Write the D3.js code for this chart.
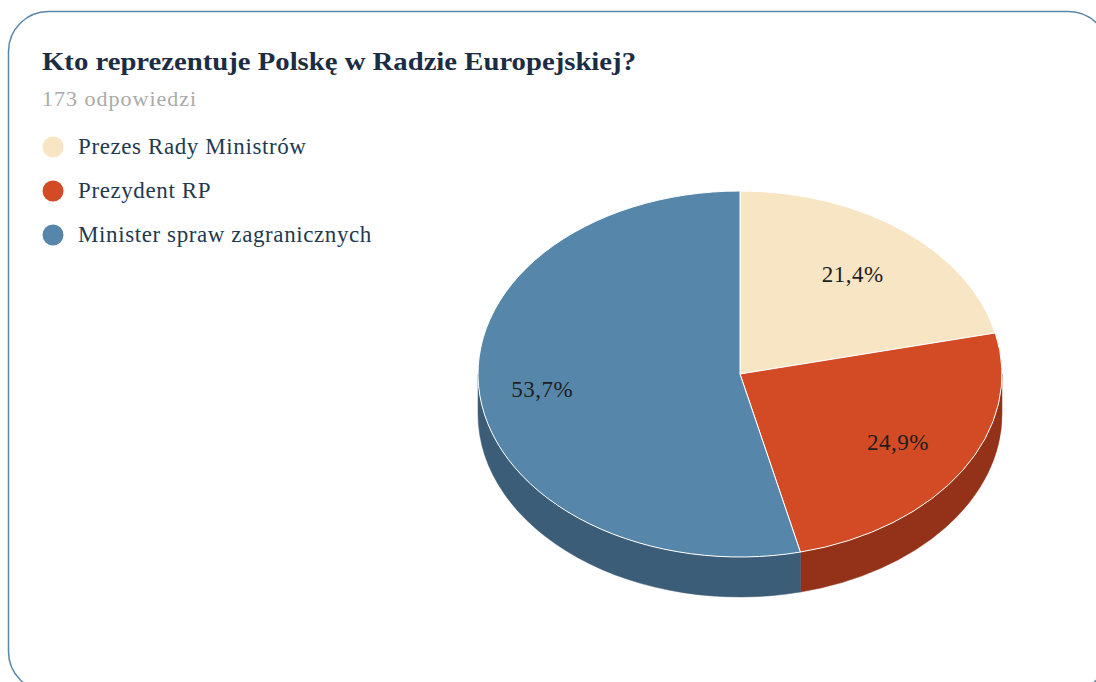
<!DOCTYPE html>
<html>
<head>
<meta charset="utf-8">
<script src="https://cdn.jsdelivr.net/npm/d3@7"></script>
<style>
  html, body { margin: 0; padding: 0; background: #fff; }
  svg { display: block; }
</style>
</head>
<body>
<div id="chart"></div>
<script>
// dane
const categories = ['Prezes Rady Ministrów', 'Prezydent RP', 'Minister spraw zagranicznych'];
const values = [21.4, 24.9, 53.7];
const labels = ['21,4%', '24,9%', '53,7%'];
const topColors = ['#f8e5c3', '#d24b24', '#5687aa'];
const sideColors = ['#d8c39f', '#943119', '#3c5d78'];
const title = 'Kto reprezentuje Polskę w Radzie Europejskiej?';
const subtitle = '173 odpowiedzi';

const width = 1096, height = 682;
const font = '"Liberation Serif", "DejaVu Serif", serif';

const svg = d3.select('#chart').append('svg')
    .attr('width', width)
    .attr('height', height);

// ramka karty
svg.append('rect')
    .attr('x', 8.5).attr('y', 11.5)
    .attr('width', 1100).attr('height', 680)
    .attr('rx', 40).attr('ry', 40)
    .attr('fill', '#fff')
    .attr('stroke', '#5a86a8')
    .attr('stroke-width', 1.5);

// tytuł
svg.append('text')
    .attr('x', 42).attr('y', 70)
    .attr('font-family', font)
    .attr('font-size', 25)
    .attr('font-weight', 'bold')
    .attr('fill', '#1b2d44')
    .attr('textLength', 594)
    .attr('lengthAdjust', 'spacingAndGlyphs')
    .text(title);

svg.append('text')
    .attr('x', 42).attr('y', 106)
    .attr('font-family', font)
    .attr('font-size', 22)
    .attr('letter-spacing', 1)
    .attr('fill', '#aaaaaa')
    .text(subtitle);

// legenda
const legend = svg.append('g').selectAll('g')
    .data(categories)
    .join('g')
    .attr('transform', (d, i) => `translate(53,${147 + i * 44})`);

legend.append('circle')
    .attr('r', 10.5)
    .attr('fill', (d, i) => topColors[i]);

legend.append('text')
    .attr('x', 25).attr('y', 7)
    .attr('font-family', font)
    .attr('font-size', 23)
    .attr('letter-spacing', 0.6)
    .attr('fill', '#23394f')
    .text(d => d);

// wykres kołowy 3D
const cx = 740, cy = 374, rx = 262, ry = 183, depth = 40;

const pie = d3.pie().sort(null).value(d => d);
const arcs = pie(values);

const pt = (a, dy) => [rx * Math.sin(a), -ry * Math.cos(a) + (dy || 0)];

const pieG = svg.append('g').attr('transform', `translate(${cx},${cy})`);

// ściany boczne (tylko przednia połowa)
const sides = arcs.map((d, i) => {
    const a0 = Math.max(d.startAngle, Math.PI / 2);
    const a1 = Math.min(d.endAngle, 3 * Math.PI / 2);
    return { i, a0, a1 };
}).filter(d => d.a1 > d.a0);

pieG.append('g').selectAll('path')
    .data(sides)
    .join('path')
    .attr('fill', d => sideColors[d.i])
    .attr('stroke', d => sideColors[d.i])
    .attr('stroke-width', 0.5)
    .attr('d', d => {
        const p0 = pt(d.a0), p1 = pt(d.a1);
        const q1 = pt(d.a1, depth), q0 = pt(d.a0, depth);
        const large = (d.a1 - d.a0) > Math.PI ? 1 : 0;
        return `M${p0}A${rx},${ry} 0 ${large} 1 ${p1}L${q1}A${rx},${ry} 0 ${large} 0 ${q0}Z`;
    });

// górna powierzchnia
const arc = d3.arc().innerRadius(0).outerRadius(rx);

pieG.append('g')
    .attr('transform', `scale(1,${ry / rx})`)
    .selectAll('path')
    .data(arcs)
    .join('path')
    .attr('d', arc)
    .attr('fill', (d, i) => topColors[i])
    .attr('stroke', '#ffffff')
    .attr('stroke-width', 1)
    .attr('vector-effect', 'non-scaling-stroke');

// etykiety
const labelR = [0.69, 0.71, 0.76];
pieG.append('g').selectAll('text')
    .data(arcs)
    .join('text')
    .attr('x', (d, i) => pt((d.startAngle + d.endAngle) / 2)[0] * labelR[i])
    .attr('y', (d, i) => pt((d.startAngle + d.endAngle) / 2)[1] * labelR[i] + 7)
    .attr('text-anchor', 'middle')
    .attr('font-family', font)
    .attr('font-size', 23)
    .attr('letter-spacing', 0.5)
    .attr('fill', '#1e1e1e')
    .text((d, i) => labels[i]);
</script>
</body>
</html>
